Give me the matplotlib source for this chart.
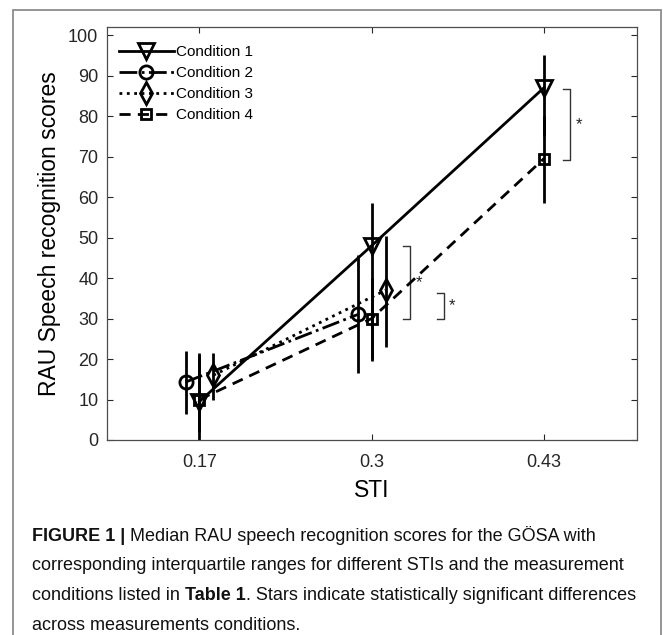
import matplotlib
matplotlib.use("Agg")
import matplotlib.pyplot as plt
from matplotlib.patches import Rectangle

plt.rcParams['font.family'] = ['Liberation Sans', 'DejaVu Sans']

# ---- data ----
sti = [0.17, 0.30, 0.43]
sti_labels = ['0.17', '0.3', '0.43']
conditions = ['Condition 1', 'Condition 2', 'Condition 3', 'Condition 4']

c1_med = [9.5, 48.0, 87.0]
c1_lo = [0.0, 20.0, 75.0]
c1_hi = [21.5, 58.5, 95.0]

c2_med = [14.3, 31.0]
c2_lo = [6.5, 16.5]
c2_hi = [22.0, 45.7]

c3_med = [16.0, 37.0]
c3_lo = [10.0, 23.0]
c3_hi = [21.5, 50.5]

c4_med = [10.0, 30.0, 69.5]
c4_lo = [2.0, 19.5, 58.5]
c4_hi = [21.0, 40.0, 80.0]

# significance brackets: (x, y_top, y_bottom)
brackets = [(0.4445, 86.6, 69.1), (0.3235, 47.9, 29.8), (0.3490, 36.4, 29.8)]

W, H = 663, 635
fig = plt.figure(figsize=(W / 100, H / 100), dpi=100)

# outer frame
fig.patches.append(Rectangle((13 / W, -0.1), (661 - 13) / W, 1.1 - 10 / H,
                             transform=fig.transFigure, fill=False,
                             edgecolor='#8c8c8c', linewidth=1.3))

ax = fig.add_axes([106.7 / W, 1 - 440 / H, 530 / W, 413 / H])

off = 0.0105
series = [
    (sti, c1_med, c1_lo, c1_hi, 0.0, '-', 'v', 11, None),
    (sti[:2], c2_med, c2_lo, c2_hi, -off, '-.', 'o', 9.5, None),
    (sti[:2], c3_med, c3_lo, c3_hi, off, ':', 'd', 11, None),
    (sti, c4_med, c4_lo, c4_hi, 0.0, '--', 's', 7.5, (4.0, 2.6)),
]
handles = []
for (xs, med, lo, hi, dx, ls, mk, ms, dashes), name in zip(series, conditions):
    x = [v + dx for v in xs]
    ax.vlines(x, lo, hi, colors='black', linewidth=2.0, zorder=2)
    kw = dict(color='black', linestyle=ls, linewidth=2.0, marker=mk,
              markersize=ms, markerfacecolor='none', markeredgewidth=2.0,
              markeredgecolor='black', label=name, zorder=3)
    if dashes is not None:
        kw['dashes'] = dashes
    h, = ax.plot(x, med, **kw)
    handles.append(h)

for bx, yt, yb in brackets:
    w = 0.0055
    ax.plot([bx, bx + w, bx + w, bx], [yt, yt, yb, yb], color='#333333',
            linewidth=1.0, zorder=2)
    ax.text(bx + w + 0.004, (yt + yb) / 2, '*', fontsize=12, ha='left',
            va='center', color='#222222')

ax.set_xlim(0.10, 0.50)
ax.set_ylim(0, 102)
ax.set_xticks(sti)
ax.set_xticklabels(sti_labels)
ax.set_yticks(range(0, 101, 10))
ax.tick_params(direction='in', length=4, width=0.8, colors='#262626',
               labelsize=13, top=True, right=True)
ax.tick_params(axis='x', pad=10)
ax.tick_params(axis='y', pad=6)
for s in ax.spines.values():
    s.set_color('#4d4d4d')
    s.set_linewidth(0.9)
ax.set_xlabel('STI', fontsize=16.5, labelpad=6)
ax.set_ylabel('RAU Speech recognition scores', fontsize=16.5, labelpad=5)

leg = ax.legend(handles=handles, loc='upper left', frameon=False,
                fontsize=11, handlelength=3.6, handletextpad=0.15,
                labelspacing=0.45, borderaxespad=0.4,
                bbox_to_anchor=(0.0, 0.985))

# caption with bold runs
cap_font = ['Liberation Sans', 'DejaVu Sans']
cap_size = 13
renderer = fig.canvas.get_renderer()


def text_w(s, weight):
    t = fig.text(0, 0, s, fontsize=cap_size, family=cap_font, weight=weight)
    w = t.get_window_extent(renderer).width
    t.remove()
    return w


space_w = text_w('a a', 'normal') - text_w('aa', 'normal')


def rich_line(x_px, y_px, parts):
    x = x_px
    for i, (s, weight, gap_before) in enumerate(parts):
        if gap_before:
            x += space_w
        t = fig.text(x / W, 1 - y_px / H, s, fontsize=cap_size, family=cap_font,
                     weight=weight, va='baseline', ha='left', color='#111111')
        x = t.get_window_extent(renderer).x1


lines = [
    [('FIGURE 1 |', 'bold', False),
     ('Median RAU speech recognition scores for the GÖSA with', 'normal', True)],
    [('corresponding interquartile ranges for different STIs and the measurement', 'normal', False)],
    [('conditions listed in', 'normal', False), ('Table 1', 'bold', True),
     ('. Stars indicate statistically significant differences', 'normal', False)],
    [('across measurements conditions.', 'normal', False)],
]
y0 = 541
for i, parts in enumerate(lines):
    rich_line(32, y0 + i * 29.5, parts)

fig.savefig('out.png', dpi=100)
